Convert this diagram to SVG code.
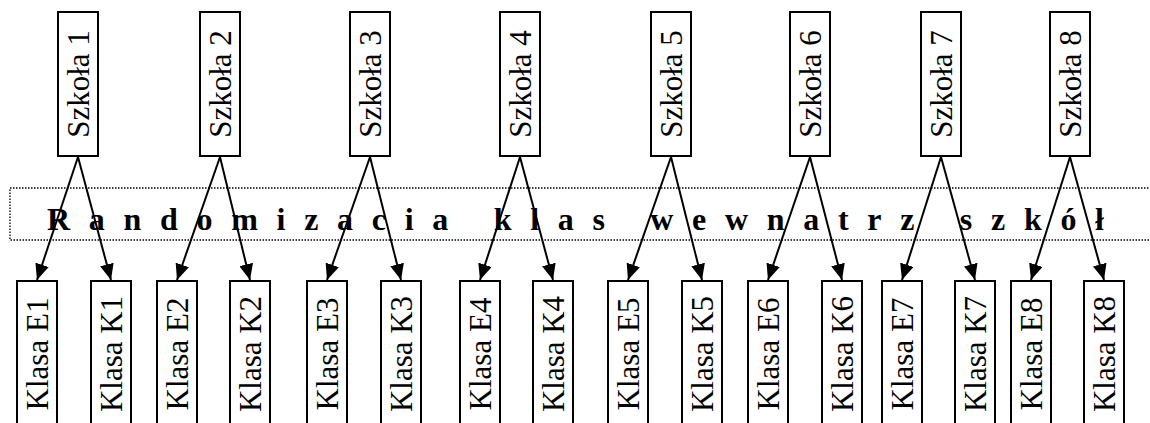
<svg xmlns="http://www.w3.org/2000/svg" width="1150" height="423" viewBox="0 0 1150 423">
<style>
.box{fill:#fff;stroke:#000;stroke-width:2}
.lbl{font-family:"Liberation Serif","Times New Roman",serif;font-size:31px;fill:#000;text-anchor:middle}
.conn{stroke:#000;stroke-width:2;fill:none;marker-end:url(#ah)}
.band{fill:none;stroke:#000;stroke-width:1.3;stroke-dasharray:1.5 1.5}
.bt{font-family:"Liberation Serif","Times New Roman",serif;font-size:32px;font-weight:bold;fill:#000;letter-spacing:18.7px}
</style>
<defs>
<marker id="ah" markerUnits="userSpaceOnUse" markerWidth="16" markerHeight="14" refX="16" refY="7" orient="auto">
<path d="M0,0 L16,7 L0,14 Z" fill="#000"/>
</marker>
</defs>
<rect class="band" x="10" y="188" width="1160" height="52"/>
<text class="bt" x="47" y="230">Randomizacia klas wewnatrz szkół</text>
<g id="schools">
<g id="s1"><rect class="box" x="58" y="12" width="40" height="144"/><text class="lbl" transform="translate(88.5,84) rotate(-90)">Szkoła 1</text></g>
<g id="s2"><rect class="box" x="200" y="12" width="40" height="144"/><text class="lbl" transform="translate(230.5,84) rotate(-90)">Szkoła 2</text></g>
<g id="s3"><rect class="box" x="350" y="12" width="40" height="144"/><text class="lbl" transform="translate(380.5,84) rotate(-90)">Szkoła 3</text></g>
<g id="s4"><rect class="box" x="500" y="12" width="40" height="144"/><text class="lbl" transform="translate(530.5,84) rotate(-90)">Szkoła 4</text></g>
<g id="s5"><rect class="box" x="651" y="12" width="40" height="144"/><text class="lbl" transform="translate(681.5,84) rotate(-90)">Szkoła 5</text></g>
<g id="s6"><rect class="box" x="790" y="12" width="40" height="144"/><text class="lbl" transform="translate(820.5,84) rotate(-90)">Szkoła 6</text></g>
<g id="s7"><rect class="box" x="921" y="12" width="40" height="144"/><text class="lbl" transform="translate(951.5,84) rotate(-90)">Szkoła 7</text></g>
<g id="s8"><rect class="box" x="1050" y="12" width="40" height="144"/><text class="lbl" transform="translate(1080.5,84) rotate(-90)">Szkoła 8</text></g>
</g>
<g id="classes">
<g id="e1"><rect class="box" x="17" y="281" width="40" height="144"/><text class="lbl" transform="translate(47.5,354) rotate(-90)">Klasa E1</text></g>
<g id="k1"><rect class="box" x="91" y="281" width="40" height="144"/><text class="lbl" transform="translate(121.5,354) rotate(-90)">Klasa K1</text></g>
<g id="e2"><rect class="box" x="157" y="281" width="40" height="144"/><text class="lbl" transform="translate(187.5,354) rotate(-90)">Klasa E2</text></g>
<g id="k2"><rect class="box" x="230" y="281" width="40" height="144"/><text class="lbl" transform="translate(260.5,354) rotate(-90)">Klasa K2</text></g>
<g id="e3"><rect class="box" x="307" y="281" width="40" height="144"/><text class="lbl" transform="translate(337.5,354) rotate(-90)">Klasa E3</text></g>
<g id="k3"><rect class="box" x="381" y="281" width="40" height="144"/><text class="lbl" transform="translate(411.5,354) rotate(-90)">Klasa K3</text></g>
<g id="e4"><rect class="box" x="460" y="281" width="40" height="144"/><text class="lbl" transform="translate(490.5,354) rotate(-90)">Klasa E4</text></g>
<g id="k4"><rect class="box" x="533" y="281" width="40" height="144"/><text class="lbl" transform="translate(563.5,354) rotate(-90)">Klasa K4</text></g>
<g id="e5"><rect class="box" x="608" y="281" width="40" height="144"/><text class="lbl" transform="translate(638.5,354) rotate(-90)">Klasa E5</text></g>
<g id="k5"><rect class="box" x="682" y="281" width="40" height="144"/><text class="lbl" transform="translate(712.5,354) rotate(-90)">Klasa K5</text></g>
<g id="e6"><rect class="box" x="748" y="281" width="40" height="144"/><text class="lbl" transform="translate(778.5,354) rotate(-90)">Klasa E6</text></g>
<g id="k6"><rect class="box" x="822" y="281" width="40" height="144"/><text class="lbl" transform="translate(852.5,354) rotate(-90)">Klasa K6</text></g>
<g id="e7"><rect class="box" x="882" y="281" width="40" height="144"/><text class="lbl" transform="translate(912.5,354) rotate(-90)">Klasa E7</text></g>
<g id="k7"><rect class="box" x="955" y="281" width="40" height="144"/><text class="lbl" transform="translate(985.5,354) rotate(-90)">Klasa K7</text></g>
<g id="e8"><rect class="box" x="1011" y="281" width="40" height="144"/><text class="lbl" transform="translate(1041.5,354) rotate(-90)">Klasa E8</text></g>
<g id="k8"><rect class="box" x="1084" y="281" width="40" height="144"/><text class="lbl" transform="translate(1114.5,354) rotate(-90)">Klasa K8</text></g>
</g>
<g id="connectors">
<line class="conn" x1="78" y1="157" x2="37" y2="280"/>
<line class="conn" x1="78" y1="157" x2="111" y2="280"/>
<line class="conn" x1="220" y1="157" x2="177" y2="280"/>
<line class="conn" x1="220" y1="157" x2="250" y2="280"/>
<line class="conn" x1="370" y1="157" x2="327" y2="280"/>
<line class="conn" x1="370" y1="157" x2="401" y2="280"/>
<line class="conn" x1="520" y1="157" x2="480" y2="280"/>
<line class="conn" x1="520" y1="157" x2="553" y2="280"/>
<line class="conn" x1="671" y1="157" x2="628" y2="280"/>
<line class="conn" x1="671" y1="157" x2="702" y2="280"/>
<line class="conn" x1="810" y1="157" x2="768" y2="280"/>
<line class="conn" x1="810" y1="157" x2="842" y2="280"/>
<line class="conn" x1="941" y1="157" x2="902" y2="280"/>
<line class="conn" x1="941" y1="157" x2="975" y2="280"/>
<line class="conn" x1="1070" y1="157" x2="1031" y2="280"/>
<line class="conn" x1="1070" y1="157" x2="1104" y2="280"/>
</g>
</svg>
